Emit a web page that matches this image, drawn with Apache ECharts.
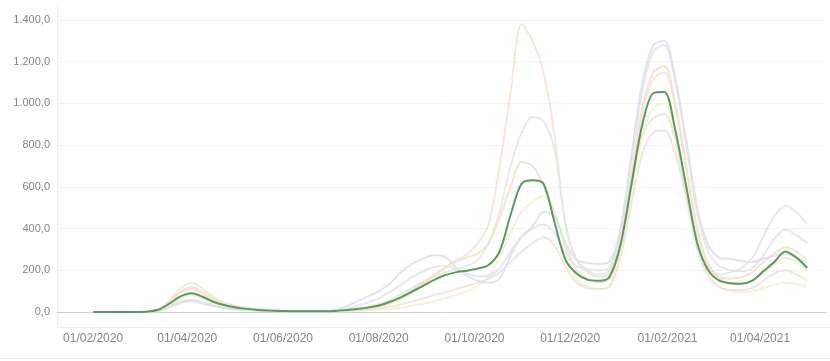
<!DOCTYPE html>
<html><head><meta charset="utf-8">
<script src="https://cdn.jsdelivr.net/npm/echarts@6/dist/echarts.min.js"></script>
<style>html,body{margin:0;padding:0;background:#fff}#c{width:830px;height:361px}</style>
</head><body><div id="c"></div>
<script>
const dates = ["2020-02-01","2020-02-08","2020-02-15","2020-02-22","2020-02-29","2020-03-07","2020-03-14","2020-03-21","2020-03-28","2020-04-04","2020-04-11","2020-04-18","2020-04-25","2020-05-02","2020-05-09","2020-05-16","2020-05-23","2020-05-30","2020-06-06","2020-06-13","2020-06-20","2020-06-27","2020-07-04","2020-07-11","2020-07-18","2020-07-25","2020-08-01","2020-08-08","2020-08-15","2020-08-22","2020-08-29","2020-09-05","2020-09-12","2020-09-19","2020-09-26","2020-10-03","2020-10-10","2020-10-17","2020-10-24","2020-10-31","2020-11-07","2020-11-14","2020-11-21","2020-11-28","2020-12-05","2020-12-12","2020-12-19","2020-12-26","2021-01-02","2021-01-09","2021-01-16","2021-01-23","2021-01-30","2021-02-06","2021-02-13","2021-02-20","2021-02-27","2021-03-06","2021-03-13","2021-03-20","2021-03-27","2021-04-03","2021-04-10","2021-04-17","2021-04-24","2021-05-01"];

const mainSeries = [0,0,0,0,0,2,12,42,76,90,72,48,32,22,15,10,7,5,4,3,3,3,5,9,14,21,31,48,70,97,124,153,176,190,198,208,225,290,465,615,632,615,430,250,185,155,150,168,320,610,900,1050,1055,870,600,330,200,150,138,135,150,195,240,290,262,212];

const peachSeries = [0,0,0,0,0,0,15,60,115,140,110,70,45,30,20,13,9,6,4,3,3,3,4,6,10,15,25,40,60,90,130,170,210,250,275,330,420,700,1050,1380,1300,1150,850,420,250,200,180,200,350,650,950,1120,1150,980,680,380,220,160,140,135,150,190,230,260,240,200];
const grayGreenSeries = [0,0,0,0,0,0,12,50,100,120,95,60,40,27,18,12,8,6,4,3,3,4,6,10,16,25,38,58,85,115,145,170,190,205,220,250,330,480,700,860,935,915,780,420,250,190,170,185,330,620,850,930,950,820,560,320,200,180,190,210,260,360,460,510,480,420];
const orangeSeries = [0,0,0,0,0,0,10,45,95,110,85,55,35,24,16,11,8,5,4,3,3,3,5,8,13,20,30,48,72,105,140,175,210,240,260,280,330,450,600,720,700,610,470,320,200,160,140,160,320,640,980,1150,1180,1000,700,400,230,170,160,165,190,240,280,310,290,250];
const yellowSeries = [0,0,0,0,0,0,6,30,65,80,62,40,26,18,12,8,6,4,3,2,2,2,3,4,6,8,12,16,22,30,40,52,65,80,100,125,170,260,380,480,530,555,480,300,160,120,110,125,280,560,850,980,1000,860,600,330,180,120,100,95,100,115,130,140,135,120];
const lavenderSeries = [0,0,0,0,0,1,8,28,50,58,45,30,20,14,10,7,5,4,3,3,3,5,10,25,50,75,100,135,190,230,255,272,265,215,175,150,140,160,270,360,410,480,460,330,250,235,230,240,400,750,1100,1280,1300,1120,820,500,320,260,255,245,240,255,270,280,260,240];
const salmonSeries = [0,0,0,0,0,0,5,20,45,55,45,30,20,14,10,7,5,3,2,2,2,2,3,5,8,12,18,26,36,50,65,80,95,110,125,140,160,190,240,290,330,360,320,220,140,115,110,120,260,520,760,860,870,760,540,300,170,120,105,105,115,150,185,200,180,150];
const grayBlueSeries = [0,0,0,0,0,0,6,25,45,52,40,27,18,12,9,6,5,4,3,3,3,4,7,15,28,45,65,95,130,165,195,215,220,205,185,170,175,210,290,360,400,420,380,280,220,205,200,215,380,720,1060,1250,1280,1100,800,470,290,220,200,195,210,270,350,395,370,330];

const tickDates = ["2020-02-01","2020-04-01","2020-06-01","2020-08-01","2020-10-01","2020-12-01","2021-02-01","2021-04-01"];
const yTicks = [0,200,400,600,800,1000,1200,1400];

function parseLocal(s){const p=s.split('-').map(Number);return new Date(p[0],p[1]-1,p[2]).getTime();}
function pad(n){return (n<10?'0':'')+n;}
function fmtY(v){const s=v.toFixed(1).split('.');return s[0].replace(/\B(?=(\d{3})+(?!\d))/g,'.')+','+s[1];}

const faint = [
  {d: peachSeries, c:'#f4e4d4'},
  {d: grayGreenSeries, c:'#e2e9df'},
  {d: yellowSeries, c:'#f3eed3'},
  {d: salmonSeries, c:'#f1e2d8'},
  {d: orangeSeries, c:'#f4dfc9'},
  {d: grayBlueSeries, c:'#e2e4ec'},
  {d: lavenderSeries, c:'#dcdfed'}
];

const series = faint.map(f=>({
  type:'line', data: dates.map((t,i)=>[parseLocal(t),f.d[i]]), showSymbol:false, smooth:0.3,
  lineStyle:{color:f.c,width:2,opacity:0.85}, itemStyle:{color:f.c}, z:1, silent:true
}));
series.push({type:'line', data: dates.map((t,i)=>[parseLocal(t),mainSeries[i]]), showSymbol:false, smooth:0.3,
  lineStyle:{color:'#5a9a5c',width:2}, itemStyle:{color:'#5a9a5c'}, z:5});

const chart = echarts.init(document.getElementById('c'), null, {renderer:'canvas'});
chart.setOption({
  animation:false,
  backgroundColor:'#fff',
  grid:{left:57, right:4, top:20, bottom:49, containLabel:false},
  xAxis:{type:'value', min:parseLocal('2020-01-09'), max:parseLocal('2021-05-13'),
    axisLine:{show:true, onZero:true, lineStyle:{color:'#cfcfcf',width:1}},
    axisTick:{show:false, customValues: tickDates.map(parseLocal)},
    splitLine:{show:false},
    axisLabel:{customValues: tickDates.map(parseLocal), margin:21, color:'#858585', fontSize:12, fontFamily:'Liberation Sans, Arial, sans-serif',
      formatter:function(v){const d=new Date(v);return pad(d.getDate())+'/'+pad(d.getMonth()+1)+'/'+d.getFullYear();}}
  },
  yAxis:{type:'value', min:yTicks[0], max:yTicks[yTicks.length-1], interval:200,
    axisLine:{show:false}, axisTick:{show:false},
    splitLine:{show:true, lineStyle:{color:'#f4f4f4',width:1}},
    axisLabel:{margin:7, color:'#858585', fontSize:11, fontFamily:'Liberation Sans, Arial, sans-serif', formatter:fmtY}
  },
  graphic:[
    {type:'line', shape:{x1:57.5,y1:4,x2:57.5,y2:327}, style:{stroke:'#f0f0f0',lineWidth:1}, silent:true},
    {type:'line', shape:{x1:57,y1:327.5,x2:830,y2:327.5}, style:{stroke:'#f0f0f0',lineWidth:1}, silent:true},
    {type:'line', shape:{x1:0,y1:358.5,x2:830,y2:358.5}, style:{stroke:'#e6e6e6',lineWidth:1}, silent:true}
  ],
  series: series
});
</script>
</body></html>
